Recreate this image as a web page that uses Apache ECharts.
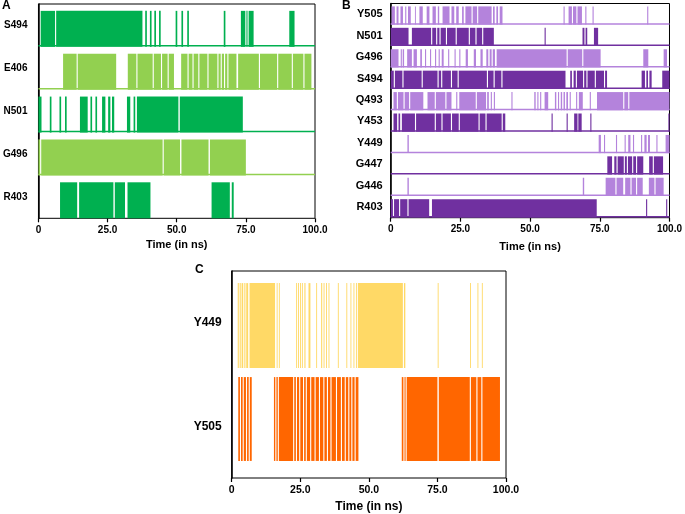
<!DOCTYPE html>
<html>
<head>
<meta charset="utf-8">
<script src="https://cdn.jsdelivr.net/npm/echarts@6/dist/echarts.min.js"></script>
<style>
  html, body { margin: 0; padding: 0; background: #fff; }
  #main { width: 685px; height: 514px; }
</style>
</head>
<body>
<div id="main"></div>
<script>
// contact intervals [start, end] in ns
// panel A
var rowsA = ['S494', 'E406', 'N501', 'G496', 'R403'];
var a_S494 = [[0.8,6.0],[6.4,37.6],[38.6,39.2],[40.3,40.9],[41.9,42.5],[43.6,44.2],[49.6,50.2],[51.7,52.3],[53.8,54.4],[67.0,67.6],[73.2,74.8],[75.2,75.6],[76.0,77.8],[90.7,92.6]];
var a_E406 = [[8.9,13.8],[14.2,28.1],[32.3,35.4],[35.8,41.3],[41.7,44.3],[44.7,46.7],[47.1,49.0],[51.6,53.9],[54.3,55.7],[56.1,57.8],[58.2,61.1],[61.5,64.7],[65.1,65.9],[66.3,67.1],[67.5,68.3],[68.7,71.6],[72.2,79.7],[80.1,86.3],[86.7,91.6],[92.0,95.8],[96.2,98.7]];
var a_N501 = [[0,1.1],[4.1,4.7],[7.6,8.2],[9.6,10.2],[15.0,17.8],[18.8,19.4],[20.6,21.2],[23.0,24.2],[25.2,26.0],[26.6,27.4],[32.0,33.2],[34.4,35.0],[35.6,50.6],[51.1,73.9]];
var a_G496 = [[0,0.6],[1.0,44.9],[45.3,51.2],[51.7,61.5],[62.0,75.0]];
var a_R403 = [[7.8,14.0],[14.7,27.1],[27.6,31.3],[32.2,40.5],[62.6,69.2],[69.9,70.6]];

// panel B
var rowsB = ['Y505', 'N501', 'G496', 'S494', 'Q493', 'Y453', 'Y449', 'G447', 'G446', 'R403'];
var b_Y505 = [[0.3,1.5],[2.1,2.8],[3.5,4.4],[5.2,5.6],[6.2,7.2],[8.7,9.0],[10.3,11.5],[12.9,13.9],[15.0,16.2],[16.9,17.4],[18.6,21.1],[21.8,22.8],[23.5,24.4],[25.6,26.2],[26.8,29.0],[29.4,31.0],[31.4,36.2],[36.7,37.3],[37.9,38.5],[39.1,40.1],[62.0,62.4],[63.8,65.0],[65.4,66.6],[67.0,68.6],[69.8,70.2],[72.4,72.8],[92.0,92.4]];
var b_N501 = [[0,6.4],[7.6,14.5],[14.9,16.3],[16.7,17.5],[17.9,19.8],[20.2,23.3],[23.7,28.0],[28.4,30.4],[30.8,32.8],[33.2,37.0],[55.2,55.6],[68.8,69.5],[69.9,70.5],[72.9,74.4]];
var b_G496 = [[0,2.8],[3.6,4.0],[4.3,4.8],[5.9,7.6],[8.2,9.4],[10.6,11.2],[12.3,12.7],[14.1,14.5],[15.9,16.3],[17.2,17.6],[18.3,19.0],[20.6,21.0],[22.9,23.3],[24.6,25.0],[26.9,27.7],[29.8,30.6],[32.2,33.0],[34.3,35.0],[35.5,36.2],[36.6,37.4],[38.0,63.1],[63.5,68.7],[69.1,75.3],[90.6,92.4],[97.9,99.1]];
var b_S494 = [[0,1.1],[1.5,4.2],[4.6,11.1],[11.5,16.8],[17.2,18.1],[18.5,21.6],[22.0,24.0],[24.4,34.5],[34.9,36.9],[37.3,39.7],[40.1,62.7],[64.4,65.0],[65.6,66.4],[66.8,69.0],[69.4,70.2],[70.6,73.2],[73.6,76.5],[76.9,77.6],[90.0,91.2],[91.7,92.3],[92.8,93.6],[97.4,100]];
var b_Q493 = [[1.0,2.2],[2.6,4.6],[5.0,6.6],[7.0,11.7],[13.2,15.8],[16.2,19.6],[20.0,21.8],[23.5,23.9],[24.6,30.5],[30.9,34.2],[34.6,35.2],[35.9,36.3],[37.0,37.4],[43.3,43.7],[51.5,52.0],[52.6,53.0],[53.6,54.0],[55.2,56.5],[58.9,59.4],[60.0,60.4],[61.0,61.5],[62.0,62.5],[63.0,63.6],[64.2,64.6],[66.5,66.9],[67.5,68.9],[71.4,71.8],[74.0,83.4],[83.8,85.2],[85.6,100]];
var b_Y453 = [[1.0,2.3],[2.8,3.4],[4.0,8.7],[9.1,15.8],[16.2,18.2],[18.6,21.6],[22.0,24.4],[24.8,31.5],[31.9,34.0],[34.4,39.8],[40.2,41.1],[57.7,58.1],[63.1,63.5],[65.8,67.0],[67.3,68.5],[71.6,72.0],[99.6,100]];
var b_Y449 = [[6.0,6.5],[74.6,75.4],[76.5,76.9],[80.8,81.2],[83.9,84.3],[85.2,86.0],[86.9,87.3],[89.8,90.2],[91.0,91.8],[92.3,93.0],[95.3,95.7],[98.6,100]];
var b_G447 = [[77.7,79.4],[80.2,81.0],[81.4,83.6],[84.0,84.7],[85.1,86.6],[87.0,88.0],[88.4,90.6],[92.7,94.0],[94.4,97.7]];
var b_G446 = [[6.0,6.5],[68.9,69.4],[77.1,80.6],[81.0,83.4],[84.1,86.0],[86.4,88.0],[88.4,90.4],[92.6,94.6],[95.0,97.9]];
var b_R403 = [[0,0.8],[1.2,3.0],[3.4,6.0],[6.4,13.8],[14.8,73.9],[91.6,92.0],[98.8,99.2]];

// panel C
var rowsC = ['Y449', 'Y505'];
var c_Y449 = [[2.2,2.6],[2.9,3.3],[3.6,4.2],[4.6,5.0],[5.3,6.0],[6.5,15.8],[16.4,16.7],[17.2,17.5],[23.5,23.8],[24.2,24.5],[24.9,25.2],[25.6,25.9],[26.5,26.9],[28.0,28.7],[30.8,31.1],[32.6,33.0],[33.5,33.8],[34.4,34.7],[35.3,35.6],[38.7,39.0],[41.8,42.1],[43.3,43.6],[44.4,44.7],[45.3,45.6],[46.0,62.4],[62.8,63.3],[75.1,75.4],[86.9,87.2],[89.6,89.9],[91.2,91.5]];
var c_Y505 = [[2.4,3.0],[3.4,4.0],[4.4,5.2],[5.6,6.2],[6.6,7.3],[15.4,15.9],[16.3,16.8],[17.2,22.4],[22.8,23.4],[23.8,24.6],[25.0,26.0],[26.4,27.0],[27.4,28.6],[29.0,30.2],[30.6,31.8],[32.2,33.4],[33.8,34.7],[35.1,36.0],[36.4,38.0],[38.4,39.8],[40.2,41.2],[41.6,42.5],[42.9,43.6],[44.0,44.8],[45.2,46.2],[62.0,62.6],[63.0,63.4],[63.8,75.0],[75.5,86.8],[87.2,89.2],[89.6,91.0],[91.4,97.8]];

var tickLabels = ['0', '25.0', '50.0', '75.0', '100.0'];

var green = '#00b050', lgreen = '#92d050';
var purple = '#7030a0', lpurple = '#b483dc';
var yellow = '#ffd966', orange = '#ff6600';
var FONT = '"Liberation Sans", Arial, sans-serif';

var myChart = echarts.init(document.getElementById('main'));

// one row of contact intervals
function rowSeries(g, row, list, color, frac, shift) {
    return {
        type: 'custom',
        xAxisIndex: g,
        yAxisIndex: g,
        silent: true,
        animation: false,
        itemStyle: { color: color },
        encode: { x: [1, 2], y: 0 },
        data: list.map(function (d) { return [row, d[0], d[1]]; }),
        renderItem: function (params, api) {
            var p0 = api.coord([api.value(1), api.value(0)]);
            var p1 = api.coord([api.value(2), api.value(0)]);
            var h = api.size([0, 1])[1];
            var fh = h * frac;
            var top = p0[1] + h * shift - fh / 2;
            return {
                type: 'rect',
                shape: { x: p0[0], y: top, width: Math.max(p1[0] - p0[0], 0.9), height: fh },
                style: { fill: color }
            };
        }
    };
}

// line under each row
function baseSeries(g, row, color) {
    return {
        type: 'custom',
        xAxisIndex: g,
        yAxisIndex: g,
        silent: true,
        animation: false,
        encode: { x: [1, 2], y: 0 },
        data: [[row, 0, 100]],
        renderItem: function (params, api) {
            var p0 = api.coord([api.value(1), api.value(0)]);
            var p1 = api.coord([api.value(2), api.value(0)]);
            var h = api.size([0, 1])[1];
            var y = p0[1] + h / 2 - 1;
            return {
                type: 'line',
                shape: { x1: p0[0], y1: y, x2: p1[0], y2: y },
                style: { stroke: color, lineWidth: 1.5 }
            };
        }
    };
}

function xAxisFor(g, fs, nameFs, gap) {
    return {
        gridIndex: g,
        type: 'value',
        min: 0,
        max: 100,
        interval: 25,
        name: 'Time (in ns)',
        nameLocation: 'middle',
        nameGap: gap,
        nameTextStyle: { color: '#000', fontWeight: 'bold', fontSize: nameFs, fontFamily: FONT },
        splitLine: { show: false },
        axisLine: { lineStyle: { color: '#000', width: 1.5 } },
        axisTick: { show: true, length: 4, lineStyle: { color: '#000', width: 1.2 } },
        axisLabel: {
            color: '#000', fontWeight: 'bold', fontSize: fs, fontFamily: FONT, margin: 7,
            formatter: function (v) { return tickLabels[Math.round(v / 25)]; }
        }
    };
}

function yAxisFor(g, rows, fs, margin) {
    return {
        gridIndex: g,
        type: 'category',
        inverse: true,
        data: rows,
        axisLine: { lineStyle: { color: '#000', width: 1.5 } },
        axisTick: { show: false },
        splitLine: { show: false },
        axisLabel: { color: '#000', fontWeight: 'bold', fontSize: fs, fontFamily: FONT, margin: margin }
    };
}

var series = [];
var listsA = [a_S494, a_E406, a_N501, a_G496, a_R403];
var colA = [green, lgreen, green, lgreen, green];
rowsA.forEach(function (r, i) {
    if (i < rowsA.length - 1) series.push(baseSeries(0, i, colA[i]));
    series.push(rowSeries(0, i, listsA[i], colA[i], 0.84, 0.08));
});
var listsB = [b_Y505, b_N501, b_G496, b_S494, b_Q493, b_Y453, b_Y449, b_G447, b_G446, b_R403];
var colB = [lpurple, purple, lpurple, purple, lpurple, purple, lpurple, purple, lpurple, purple];
rowsB.forEach(function (r, i) {
    series.push(baseSeries(1, i, colB[i]));
    series.push(rowSeries(1, i, listsB[i], colB[i], 0.85, 0.06));
});
series.push(rowSeries(2, 0, c_Y449, yellow, 0.82, 0.027));
series.push(rowSeries(2, 1, c_Y505, orange, 0.81, -0.07));

var frame = { show: true, borderColor: '#000', borderWidth: 1, backgroundColor: 'transparent' };

var option = {
    animation: false,
    backgroundColor: '#fff',
    grid: [
        Object.assign({ left: 36.7, top: 4, width: 278.3, height: 214.3 }, frame),
        Object.assign({ left: 390.7, top: 3.5, width: 283.6, height: 214.2 }, frame),
        Object.assign({ left: 231.7, top: 271, width: 274.3, height: 207 }, frame)
    ],
    xAxis: [xAxisFor(0, 10, 11, 21), xAxisFor(1, 10, 11, 24), xAxisFor(2, 10.5, 12, 23)],
    yAxis: [yAxisFor(0, rowsA, 10, 11), yAxisFor(1, rowsB, 11, 8), yAxisFor(2, rowsC, 12, 10)],
    graphic: [
        { type: 'text', left: 2, top: 0, style: { text: 'A', font: 'bold 12px ' + FONT, fill: '#000' } },
        { type: 'text', left: 342, top: 0, style: { text: 'B', font: 'bold 12px ' + FONT, fill: '#000' } },
        { type: 'text', left: 195, top: 264, style: { text: 'C', font: 'bold 12px ' + FONT, fill: '#000' } }
    ],
    series: series
};
myChart.setOption(option);
</script>
</body>
</html>
